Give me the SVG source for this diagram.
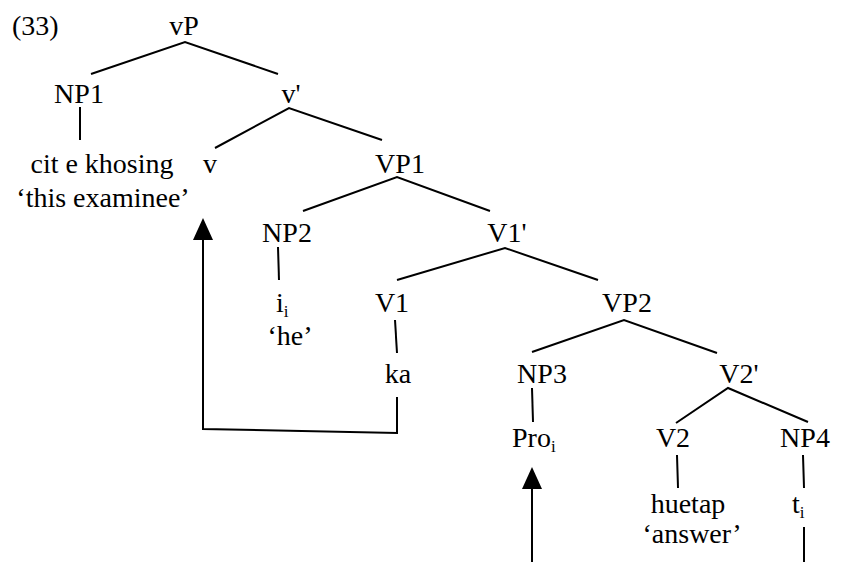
<svg xmlns="http://www.w3.org/2000/svg" width="843" height="562" viewBox="0 0 843 562">
<style>
text{font-family:"Liberation Serif","Times New Roman",serif;font-size:28px;fill:#000}
.m{text-anchor:middle}
.sub{font-size:17px}
.ln{stroke:#000;stroke-width:2;fill:none}
</style>
<defs>
<marker id="ah" markerWidth="22" markerHeight="20" refX="0" refY="10" orient="auto" markerUnits="userSpaceOnUse" viewBox="0 0 22 20">
<path d="M0,0 L22,10 L0,20 Z" fill="#000"/>
</marker>
</defs>
<rect width="843" height="562" fill="#fff"/>
<text x="12" y="35">(33)</text>
<g id="vP"><text class="m" x="184" y="35">vP</text></g>
<g id="NP1"><text class="m" x="79" y="103">NP1</text></g>
<g id="vbar"><text class="m" x="291" y="103">v'</text></g>
<g id="cit"><text class="m" x="102" y="173">cit e khosing</text><text class="m" x="103" y="207">‘this examinee’</text></g>
<g id="v"><text class="m" x="210" y="173">v</text></g>
<g id="VP1"><text class="m" x="400" y="173">VP1</text></g>
<g id="NP2"><text class="m" x="287" y="242">NP2</text></g>
<g id="V1bar"><text class="m" x="507" y="242">V1'</text></g>
<g id="ii"><text x="276" y="312">i<tspan class="sub" dy="5">i</tspan></text><text class="m" x="290" y="345">‘he’</text></g>
<g id="V1"><text class="m" x="392" y="312">V1</text></g>
<g id="VP2"><text class="m" x="627" y="312">VP2</text></g>
<g id="ka"><text class="m" x="398" y="383">ka</text></g>
<g id="NP3"><text class="m" x="542" y="383">NP3</text></g>
<g id="V2bar"><text class="m" x="739" y="383">V2'</text></g>
<g id="Pro"><text x="512" y="447">Pro<tspan class="sub" dy="5">i</tspan></text></g>
<g id="V2"><text class="m" x="673" y="447">V2</text></g>
<g id="NP4"><text class="m" x="805" y="447">NP4</text></g>
<g id="huetap"><text class="m" x="688" y="513">huetap</text><text class="m" x="692" y="543">‘answer’</text></g>
<g id="ti"><text x="792" y="513">t<tspan class="sub" dy="5">i</tspan></text></g>
<g id="connectors">
<path class="ln" d="M91,74 L185,42 L278,74"/>
<path class="ln" d="M80,107 L80,140"/>
<path class="ln" d="M215,148 L289,108 L382,140"/>
<path class="ln" d="M303,211 L397,177 L490,211"/>
<path class="ln" d="M278,247 L279,280"/>
<path class="ln" d="M397,280 L505,248 L598,280"/>
<path class="ln" d="M395,320 L397,353"/>
<path class="ln" d="M532,352 L624,320 L717,353"/>
<path class="ln" d="M532,388 L533,422"/>
<path class="ln" d="M676,423 L728,388 L808,422"/>
<path class="ln" d="M677,455 L678,488"/>
<path class="ln" d="M803,455 L804,488"/>
<path class="ln" d="M804,527 L804,562"/>
<path class="ln" d="M397,397 L397,433 L203,429 L203,240" marker-end="url(#ah)"/>
<path class="ln" d="M532,562 L532,489" marker-end="url(#ah)"/>
</g>
</svg>
